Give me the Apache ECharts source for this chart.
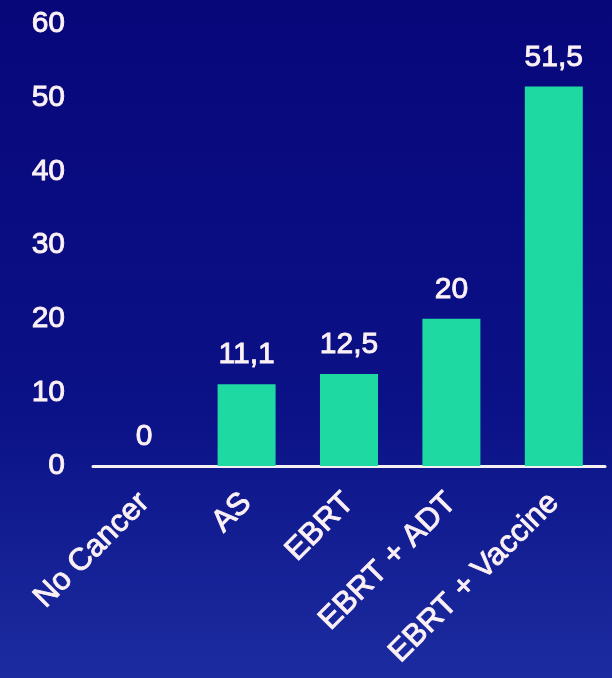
<!DOCTYPE html>
<html>
<head>
<meta charset="utf-8">
<script src="https://cdn.jsdelivr.net/npm/echarts@6/dist/echarts.min.js"></script>
<style>
html,body{margin:0;padding:0;}
#c{width:612px;height:678px;}
</style>
</head>
<body>
<div id="c"></div>
<script>
const categories = ['No Cancer', 'AS', 'EBRT', 'EBRT + ADT', 'EBRT + Vaccine'];
const values = [0, 11.1, 12.5, 20, 51.5];
const yTicks = [0, 10, 20, 30, 40, 50, 60];

const FONT = 'Liberation Sans, Arial, sans-serif';
const TXT = '#fbf0f4';

const chart = echarts.init(document.getElementById('c'));
chart.setOption({
  backgroundColor: new echarts.graphic.LinearGradient(0, 0, 0, 1, [
    {offset: 0, color: '#07077a'},
    {offset: 0.6, color: '#0b1186'},
    {offset: 1, color: '#1c2ca0'}
  ]),
  grid: {left: 93, right: 7, top: 24, bottom: 212},
  xAxis: {
    type: 'category',
    data: categories,
    axisLine: {show: true, lineStyle: {color: '#f4f0f0', width: 3}},
    axisTick: {show: false},
    axisLabel: {
      rotate: 45,
      interval: 0,
      margin: 32,
      color: TXT,
      fontFamily: FONT,
      fontSize: 31,
      textBorderColor: TXT,
      textBorderWidth: 0.9
    }
  },
  yAxis: {
    type: 'value',
    min: yTicks[0],
    max: yTicks[yTicks.length - 1],
    interval: 10,
    axisLine: {show: false},
    axisTick: {show: false},
    splitLine: {show: false},
    axisLabel: {
      margin: 28,
      color: TXT,
      fontFamily: FONT,
      fontSize: 30,
      textBorderColor: TXT,
      textBorderWidth: 0.9
    }
  },
  series: [{
    type: 'bar',
    data: values,
    barWidth: 58,
    itemStyle: {color: '#1fd9a3'},
    label: {
      show: true,
      position: 'top',
      distance: 14,
      color: TXT,
      fontFamily: FONT,
      fontSize: 30,
      textBorderColor: TXT,
      textBorderWidth: 0.9,
      formatter: p => String(p.value).replace('.', ',')
    }
  }]
});
</script>
</body>
</html>
